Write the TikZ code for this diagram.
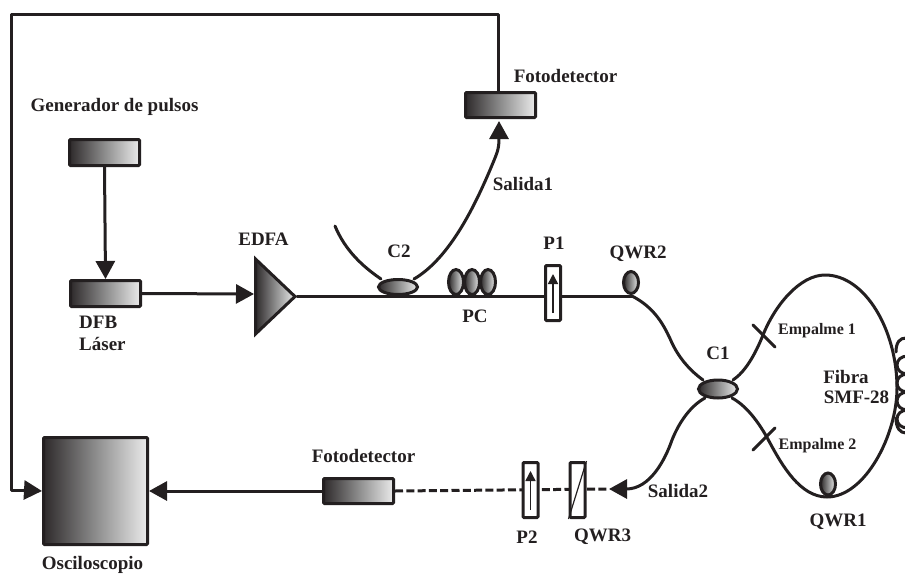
\documentclass[tikz,border=0pt]{standalone}
\usepackage{fontspec}
\setmainfont{Liberation Serif}
\usetikzlibrary{arrows.meta,shapes.geometric}
\definecolor{ink}{HTML}{231F20}
\tikzset{
  fib/.style={draw=ink,line width=3pt,line cap=round,line join=round},
  arr/.style={fib,-{Triangle[length=18pt,width=19pt]}},
  grad/.style={draw=ink,line width=3pt,left color=ink!95,right color=white!92!black,middle color=black!45},
  unit/.style={grad,rounded corners=1pt,minimum width=0,inner sep=0},
  ell/.style={grad,ellipse,inner sep=0},
  plate/.style={draw=ink,line width=3pt,fill=white,rounded corners=1pt,inner sep=0},
  lab/.style={font=\fontsize{19}{19}\selectfont\bfseries,text=ink,inner sep=0},
  slab/.style={font=\fontsize{16}{16}\selectfont\bfseries,text=ink,inner sep=0},
}
\begin{document}
\begin{tikzpicture}[x=1pt,y=-1pt]
\useasboundingbox (0,0) rectangle (905,573);
% boxes
\node[unit,minimum width=70pt,minimum height=26pt] (gen) at (104.5,152.5) {};
\node[unit,minimum width=70pt,minimum height=26pt] (dfb) at (105.5,293.5) {};
\node[unit,minimum width=70pt,minimum height=25pt] (fd1) at (500.5,105) {};
\node[unit,minimum width=70pt,minimum height=25pt] (fd2) at (358.5,491) {};
\node[unit,minimum width=104pt,minimum height=107pt] (osc) at (95.5,491) {};
% fibres
\coordinate (corner1) at (498,14);
\coordinate (corner2) at (11,14);
\coordinate (corner3) at (11,490);
\draw[fib,line cap=butt] (498,91) -- (corner1) -- (corner2) -- (corner3) -- (24,490);
\draw[arr] (gen.south) -- (dfb.north);
\draw[arr] (dfb.east) -- (254,294);
\draw[arr] (24,490) -- (osc.west);
\draw[arr] (fd2.west) -- (osc.east);
% EDFA
\draw[grad,line join=miter] (255.5,259) -- (295,296.5) -- (255.5,334) -- cycle;
\coordinate (edfaout) at (297,296);
\coordinate (qw2) at (632,296);
\draw[fib] (edfaout) -- (qw2);
% C2 branches
\draw[fib] (335,226) .. controls (345,250) and (362,266) .. (381,279);
\draw[arr] (414,279) .. controls (450,258) and (475,205) .. (490,170) .. controls (497,153) and (499,150) .. (499,121);
% ellipses
\node[ell,minimum width=39pt,minimum height=15pt] (c2) at (398,287) {};
\node[ell,minimum width=15pt,minimum height=25pt] (pc1) at (456,282) {};
\node[ell,minimum width=15pt,minimum height=25pt] (pc2) at (472,282) {};
\node[ell,minimum width=15pt,minimum height=25pt] (pc3) at (488,282) {};
\node[ell,minimum width=15pt,minimum height=22pt] (qwr2) at (631,282.5) {};
\draw[fib,line cap=butt] (370,296) -- (500,296);
% P1
\node[plate,minimum width=15pt,minimum height=55pt] (p1) at (553,293) {};
\draw[draw=ink,line width=1.5pt,-{Triangle[length=10pt,width=10pt]}] (553,313) -- (553,274);
% loop to C1
\draw[fib] (632,296) .. controls (655,308) and (664,325) .. (672,343) .. controls (680,360) and (692,372) .. (703,380);
\draw[fib] (733,380) .. controls (745,372) and (755,355) .. (763,335)
  .. controls (775,305) and (800,275) .. (825,275) .. controls (865,275) and (897,330) .. (897,388)
  .. controls (897,435) and (865,497) .. (827,497) .. controls (800,497) and (782,465) .. (770,443)
  .. controls (758,420) and (745,405) .. (732,398);
\draw[arr] (705,398) .. controls (692,405) and (680,420) .. (672,440) .. controls (665,460) and (650,489) .. (609,489);
\node[ell,minimum width=39pt,minimum height=18pt] (c1) at (718,389) {};
\node[ell,minimum width=15pt,minimum height=22pt] (qwr1) at (828,484) {};
% splices
\coordinate (e1a) at (753,325); \coordinate (e1b) at (775,347);
\coordinate (e2a) at (753,450); \coordinate (e2b) at (775,428);
\draw[fib] (e1a) -- (e1b);
\draw[fib] (e2a) -- (e2b);
% coil
\draw[fib] (896,352) .. controls (896,342) and (900,338) .. (906,338);
\foreach \y in {356,374,392,410}{
  \draw[fib] (908,\y) .. controls (901,\y) and (897,\y+4) .. (897,\y+9) .. controls (897,\y+14) and (901,\y+18) .. (908,\y+18);
}
\draw[fib] (896,418) .. controls (896,428) and (900,433) .. (906,433);
% dashed
\draw[fib,line cap=butt,dash pattern=on 8pt off 3.3pt] (fd2.east) -- (609,489);
\node[plate,minimum width=15pt,minimum height=55pt] (p2) at (530.5,490) {};
\node[plate,minimum width=15pt,minimum height=55pt] (q3) at (577.5,490) {};
\draw[draw=ink,line width=1.5pt,-{Triangle[length=10pt,width=10pt]}] (530.5,510) -- (530.5,471);
\draw[draw=ink,line width=1.2pt] (q3.south west) -- (q3.north east);
% labels
\node[lab] (t1) at (114.5,107) {Generador de pulsos};
\node[lab,anchor=west] (t2) at (79,322) {DFB};
\node[lab,anchor=west] (t3) at (79,344) {Láser};
\node[lab] (t4) at (263.5,239) {EDFA};
\node[lab] (t5) at (399,251) {C2};
\node[lab] (t6) at (475,316) {PC};
\node[lab] (t7) at (554,243) {P1};
\node[lab] (t8) at (638,254) {QWR2};
\node[lab] (t9) at (565.5,76) {Fotodetector};
\node[lab] (t10) at (523,184) {Salida1};
\node[lab] (t11) at (718,353) {C1};
\node[slab] (t12) at (817,331) {Empalme 1};
\node[slab] (t13) at (817.5,446) {Empalme 2};
\node[lab] (t14) at (846,377) {Fibra};
\node[lab] (t15) at (856.5,397) {SMF-28};
\node[lab] (t16) at (363.5,456) {Fotodetector};
\node[lab] (t17) at (678,491) {Salida2};
\node[lab] (t18) at (527,537) {P2};
\node[lab] (t19) at (602.5,537) {QWR3};
\node[lab] (t20) at (838,522) {QWR1};
\node[lab] (t21) at (92.5,565) {Osciloscopio};
\end{tikzpicture}
\end{document}
